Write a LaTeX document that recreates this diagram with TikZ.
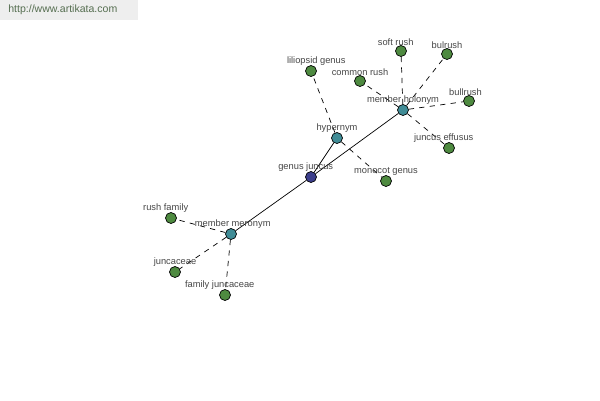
\documentclass[tikz,border=0pt]{standalone}
\usepackage{fontspec}
\setmainfont{Liberation Sans}
\usepackage{tikz}
\usetikzlibrary{positioning}
\usepackage{xcolor}

\definecolor{leaf}{RGB}{78,138,64}
\definecolor{rel}{RGB}{64,140,150}
\definecolor{root}{RGB}{60,62,140}
\definecolor{tagtext}{RGB}{70,70,70}
\definecolor{markgray}{RGB}{238,238,238}
\definecolor{marktext}{RGB}{85,110,80}

\tikzset{
  vertex/.style={circle, draw=black, line width=0.4pt, minimum size=0.22cm, inner sep=0pt},
  tag/.style={font=\fontsize{5.3}{6}\selectfont, text=tagtext, inner sep=0.8pt},
  link/.style={line width=0.4pt},
  weak/.style={line width=0.4pt, dashed, dash pattern=on 3pt off 3pt}
}

\begin{document}
\begin{tikzpicture}[x=0.02cm, y=-0.02cm]
            \useasboundingbox (0,0) rectangle (600,400);

            % watermark
            \fill[markgray] (0,0) rectangle (138,20);
            \node[font=\fontsize{6}{7}\selectfont, text=marktext, anchor=west, inner sep=0pt] (mark) at (8,10) {http://www.artikata.com};

            % centre and relations
            \node[vertex, fill=root] (gj) at (311,177) {};
            \node[vertex, fill=rel] (hyp) at (337,138) {};
            \node[vertex, fill=rel] (hol) at (403,110) {};
            \node[vertex, fill=rel] (mer) at (231,234) {};

            % leaves
            \node[vertex, fill=leaf] (lil) at (311,71) {};
            \node[vertex, fill=leaf] (mono) at (386,181) {};
            \node[vertex, fill=leaf] (crush) at (360,81) {};
            \node[vertex, fill=leaf] (srush) at (401,51) {};
            \node[vertex, fill=leaf] (bul) at (447,54) {};
            \node[vertex, fill=leaf] (bull) at (469,101) {};
            \node[vertex, fill=leaf] (jeff) at (449,148) {};
            \node[vertex, fill=leaf] (rfam) at (171,218) {};
            \node[vertex, fill=leaf] (junc) at (175,272) {};
            \node[vertex, fill=leaf] (fjunc) at (225,295) {};

            % edges
            \draw[link] (gj) -- (hyp);
            \draw[link] (gj) -- (hol);
            \draw[link] (gj) -- (mer);
            \draw[weak] (hyp) -- (lil);
            \draw[weak] (hyp) -- (mono);
            \draw[weak] (hol) -- (crush);
            \draw[weak] (hol) -- (srush);
            \draw[weak] (hol) -- (bul);
            \draw[weak] (hol) -- (bull);
            \draw[weak] (hol) -- (jeff);
            \draw[weak] (mer) -- (rfam);
            \draw[weak] (mer) -- (junc);
            \draw[weak] (mer) -- (fjunc);

            % labels
            \node[tag, above=-1pt of gj, xshift=-3pt] (gjT) {genus juncus};
            \node[tag, above=-1pt of hyp] (hypT) {hypernym};
            \node[tag, above=-1pt of hol] (holT) {member holonym};
            \node[tag, above=-1pt of mer, xshift=1pt] (merT) {member meronym};
            \node[tag, above=-1pt of lil, xshift=3pt] (lilT) {liliopsid genus};
            \node[tag, above=-1pt of mono] (monoT) {monocot genus};
            \node[tag, above=-1pt of crush] (crushT) {common rush};
            \node[tag, above=-1pt of srush, xshift=-3pt] (srushT) {soft rush};
            \node[tag, above=-1pt of bul] (bulT) {bulrush};
            \node[tag, above=-1pt of bull, xshift=-2pt] (bullT) {bullrush};
            \node[tag, above=-1pt of jeff, xshift=-3pt] (jeffT) {juncus effusus};
            \node[tag, above=-1pt of rfam, xshift=-3pt] (rfamT) {rush family};
            \node[tag, above=-1pt of junc] (juncT) {juncaceae};
            \node[tag, above=-1pt of fjunc, xshift=-3pt] (fjuncT) {family juncaceae};
        \end{tikzpicture}
\end{document}
